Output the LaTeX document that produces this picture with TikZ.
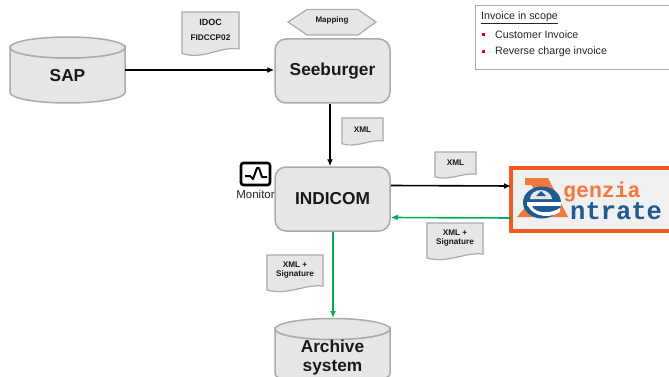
\documentclass[tikz,border=0pt]{standalone}
\usepackage{fontspec}
\setmainfont{Liberation Sans}
\newfontfamily\logofont{Liberation Mono}
\usetikzlibrary{arrows.meta,calc}
\definecolor{boxgray}{HTML}{E6E6E6}
\definecolor{edgegray}{HTML}{ABABAB}
\definecolor{greenline}{HTML}{00B050}
\definecolor{frameorange}{HTML}{F15A22}
\definecolor{logoorange}{HTML}{EE7A3C}
\definecolor{logoblue}{HTML}{1F5A93}
\tikzset{
  x=1pt,y=-1pt,
  procbox/.style={draw=edgegray,line width=1.5pt,fill=boxgray,rounded corners=11pt,minimum width=115pt,minimum height=64pt,font=\bfseries\fontsize{17.3}{19}\selectfont,text=black!90,inner sep=0pt},
  dbtext/.style={minimum width=115pt,inner sep=0pt,outer sep=0pt,font=\bfseries\fontsize{17.3}{19}\selectfont,text=black!90,align=center},
  dbdraw/.style={draw=edgegray,line width=1.5pt,fill=boxgray},
  docedge/.style={draw=edgegray,line width=1.2pt,fill=boxgray},
  doclabel/.style={font=\bfseries\fontsize{8.2}{9.5}\selectfont,align=center,inner sep=0pt,text=black!90},
  flowblack/.style={draw=black,line width=1.6pt,-{Latex[length=7pt,width=6pt]}},
  flowgreen/.style={draw=greenline,line width=1.6pt,-{Latex[length=7pt,width=6pt]}},
  listtext/.style={anchor=west,inner sep=0pt,font=\fontsize{10.7}{12}\selectfont,text=black!85},
}
\newcommand{\docshape}[5]{% x1,y1,x2,y2,text
  \path[docedge] (#1,#2) -- (#3,#2) -- (#3,{#4-0.18*(#4-#2)})
    .. controls ({#3-0.3*(#3-#1)},{#4-0.25*(#4-#2)}) and ({#1+0.35*(#3-#1)},{#4+0.08*(#4-#2)}) .. (#1,{#4-0.08*(#4-#2)}) -- cycle;
  \node[doclabel] at ({(#1+#3)/2},{#2+0.4*(#4-#2)}) {#5};
}
% x1, x2, y of top-ellipse centre, y of bottom-ellipse centre
\newcommand{\dbshape}[4]{%
  \path[dbdraw] (#1,#3) -- (#1,#4) arc[start angle=180,end angle=360,x radius={(#2-#1)/2},y radius=-10.5] -- (#2,#3) arc[start angle=0,end angle=-180,x radius={(#2-#1)/2},y radius=-10.5] -- cycle;
  \path[dbdraw] ({(#1+#2)/2},#3) ellipse ({(#2-#1)/2} and 10.5);
}
\begin{document}
\begin{tikzpicture}
\useasboundingbox (0,0) rectangle (669,377);
\clip (0,0) rectangle (669,377);
\fill[white] (0,0) rectangle (669,377);

% process boxes
\node[procbox] (seeb) at (332.5,71) {Seeburger};
\node[procbox] (indi) at (332.5,199) {INDICOM};

% cylinders
\dbshape{10}{125}{47.5}{92.5}
\node[dbtext,minimum height=56pt] (sap) at (67.5,75.5) {SAP};
\dbshape{275}{390}{329}{374}
\node[dbtext,minimum height=80pt] (arch) at (332.5,358) {Archive\\system};

% logo
\node[draw=frameorange,line width=3.5pt,fill=black!6,minimum width=180pt,minimum height=63pt,anchor=west,inner sep=0pt,outer sep=0pt] (logo) at (511,199.5) {};
\fill[logoorange] (525,178) -- (548,178) -- (568,217) -- (517,217) -- (523,210) -- (535,196) -- (532,185) -- (525,185) -- cycle;
\fill[logoblue] (542,202.5) ellipse (19 and 16);
\fill[black!10] (530,199) -- (552,199) .. controls (552,195) and (547,190) .. (541,190) .. controls (535,190) and (530,194) .. (530,199) -- cycle;
\fill[logoblue] (541,191) -- (546,196) -- (536,196) -- cycle;
\fill[white] (527,202) rectangle (561,206);
\fill[white] (532,206) .. controls (535,214) and (552,214) .. (560,208) -- (560,212) .. controls (552,218) and (534,218) .. (528,206) -- cycle;
\node[anchor=base west,inner sep=0pt,text=logoorange,font=\logofont\bfseries\fontsize{21.5}{22}\selectfont] (lg1) at (563,197) {genzia};
\node[anchor=base west,inner sep=0pt,text=logoblue,font=\logofont\bfseries\fontsize{25.5}{26}\selectfont] (lg2) at (570,219) {ntrate};

% connectors
\draw[flowblack] (sap.east |- 0,70) -- (seeb.west |- 0,70);
\draw[flowblack] ([xshift=-2.5pt]seeb.south) -- ([xshift=-2.5pt]indi.north);
\draw[flowblack] ([yshift=13.5pt]indi.east) -- ([yshift=13.5pt]logo.west);
\draw[flowgreen] ([yshift=-18.5pt]logo.west) -- ([yshift=-18.5pt]indi.east);
\draw[flowgreen] ([xshift=0.5pt]indi.south) -- ([xshift=0.5pt]arch.north);

% documents
\docshape{182}{12}{239}{57}{\fontsize{9}{10}\selectfont IDOC\\[5pt]FIDCCP02}
\docshape{342}{118}{383}{146}{XML}
\docshape{435}{152}{476}{179}{XML}
\docshape{427}{223}{483}{261}{XML +\\Signature}
\docshape{267}{255}{323}{293}{XML +\\Signature}
\draw[docedge] (288,22) -- (307,9.5) -- (358,9.5) -- (376,22) -- (358,35) -- (307,35) -- cycle;
\node[font=\bfseries\fontsize{8}{9}\selectfont,inner sep=0pt,text=black!90] (mapn) at (332,20) {Mapping};

% monitor
\draw[black,line width=2.6pt,rounded corners=2.5pt,fill=white] (241,163) rectangle (270,185);
\draw[black,line width=2pt,line join=round] (245,176) -- (250,176) -- (253,179) -- (257,168) -- (259,168) -- (262,177) -- (267,177);
\node[font=\fontsize{11.5}{13}\selectfont,inner sep=0pt,text=black!85] (mon) at (255.5,194) {Monitor};

% scope note
\draw[draw=edgegray,line width=0.8pt,fill=white] (475,5) rectangle (672,69);
\node[listtext] (t1) at (481,18) {\underline{Invoice in scope}};
\fill[red!90!black] (481.5,33.5) rectangle (484.5,36.5);
\node[listtext] (t2) at (495,35) {Customer Invoice};
\fill[red!90!black] (481.5,50.5) rectangle (484.5,53.5);
\node[listtext] (t3) at (495,52) {Reverse charge invoice};
\end{tikzpicture}
\end{document}
